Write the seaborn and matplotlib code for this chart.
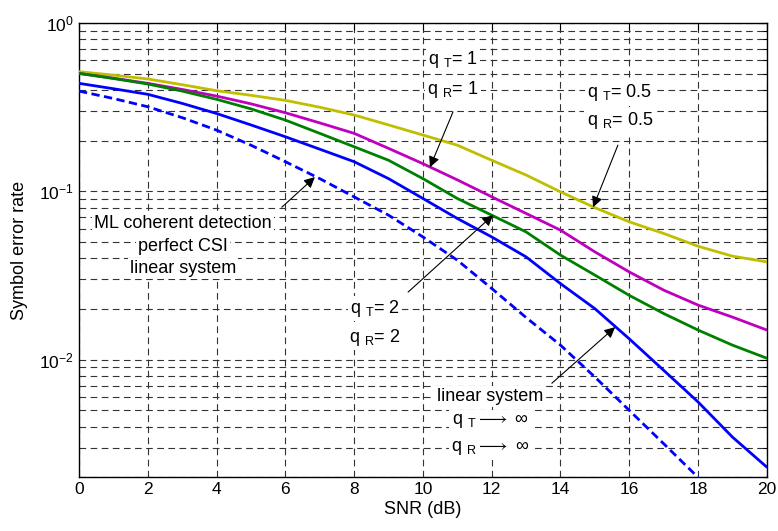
import numpy as np
import pandas as pd
import matplotlib
matplotlib.use("Agg")
import matplotlib.pyplot as plt
import seaborn as sns
from matplotlib.ticker import LogLocator, FixedLocator, NullFormatter

# ---------------- data ----------------
snr = list(range(0, 21))
snr_ml = list(range(0, 19))

ser_q05 = [0.514, 0.490, 0.465, 0.430, 0.396, 0.372, 0.347, 0.316, 0.284, 0.248, 0.216,
           0.188, 0.153, 0.125, 0.0993, 0.080, 0.0659, 0.0562, 0.0472, 0.0412, 0.0381]
ser_q1 = [0.502, 0.470, 0.438, 0.403, 0.368, 0.331, 0.293, 0.255, 0.221, 0.180, 0.146,
          0.117, 0.0928, 0.0739, 0.0588, 0.0437, 0.0332, 0.0259, 0.0211, 0.0179, 0.0150]
ser_q2 = [0.502, 0.468, 0.434, 0.394, 0.352, 0.309, 0.265, 0.221, 0.184, 0.153, 0.119,
          0.0907, 0.0722, 0.0574, 0.0418, 0.0318, 0.0241, 0.0188, 0.0150, 0.0122, 0.0102]
ser_lin = [0.438, 0.407, 0.377, 0.333, 0.290, 0.248, 0.211, 0.178, 0.150, 0.119, 0.0907,
           0.069, 0.0536, 0.0408, 0.0283, 0.0201, 0.0133, 0.00865, 0.00561, 0.00347, 0.0023]
ser_ml = [0.394, 0.356, 0.318, 0.274, 0.231, 0.188, 0.150, 0.119, 0.0927, 0.0722, 0.0536,
          0.039, 0.0265, 0.0178, 0.0122, 0.00789, 0.0050, 0.00317, 0.0020]

x_ticks = [0, 2, 4, 6, 8, 10, 12, 14, 16, 18, 20]

# ---------------- style ----------------
sns.set_style("white")
plt.rcParams["font.family"] = ["Liberation Sans", "DejaVu Sans"]
plt.rcParams["mathtext.fontset"] = "custom"
plt.rcParams["mathtext.rm"] = "Liberation Sans"
plt.rcParams["mathtext.it"] = "Liberation Sans:italic"
plt.rcParams["mathtext.bf"] = "Liberation Sans:bold"
plt.rcParams["mathtext.sf"] = "Liberation Sans"
plt.rcParams["mathtext.fallback"] = "stixsans"
plt.rcParams["axes.unicode_minus"] = False
plt.rcParams["text.color"] = "black"
plt.rcParams["axes.labelcolor"] = "black"
plt.rcParams["xtick.color"] = "black"
plt.rcParams["ytick.color"] = "black"

fig = plt.figure(figsize=(7.78, 5.31), dpi=100)
ax = fig.add_axes([0.1015, 0.1011, 0.8841, 0.8556])

fs = 13
lw = 2.0

sns.lineplot(x=snr, y=ser_q05, color="#bfbf00", lw=lw, ax=ax, zorder=3)
sns.lineplot(x=snr, y=ser_q1, color="#bf00bf", lw=lw, ax=ax, zorder=3)
sns.lineplot(x=snr, y=ser_q2, color="#008000", lw=lw, ax=ax, zorder=3)
sns.lineplot(x=snr, y=ser_lin, color="#0000ff", lw=lw, ax=ax, zorder=3)
sns.lineplot(x=snr_ml, y=ser_ml, color="#0000ff", lw=lw, ax=ax, zorder=3,
             linestyle=(0, (3.0, 1.6)))

ax.set_yscale("log")
ax.set_xlim(0, 20)
ax.set_ylim(2e-3, 1)

ax.xaxis.set_major_locator(FixedLocator(x_ticks))
ax.yaxis.set_major_locator(LogLocator(base=10, numticks=10))
ax.yaxis.set_minor_locator(LogLocator(base=10, subs=np.arange(2, 10), numticks=20))
ax.yaxis.set_minor_formatter(NullFormatter())

grid_ls = (0, (6.0, 4.0))
ax.grid(True, which="major", axis="both", color="0.2", lw=0.8, linestyle=grid_ls)
ax.grid(True, which="minor", axis="y", color="0.2", lw=0.8, linestyle=grid_ls)

ax.tick_params(axis="both", which="both", direction="in", top=True, right=True,
               labelsize=fs - 0.5, color="k", labelcolor="k")
ax.tick_params(which="major", length=5, width=0.8)
ax.tick_params(which="minor", length=3, width=0.8)
for s in ax.spines.values():
    s.set_color("k")
    s.set_linewidth(1.0)

ax.set_xlabel("SNR (dB)", fontsize=fs, labelpad=3, color="k")
ax.set_ylabel("Symbol error rate", fontsize=fs, labelpad=8, color="k")

# ---------------- annotations ----------------
arrow = dict(arrowstyle="-|>", color="k", lw=0.8, mutation_scale=16,
             shrinkA=0, shrinkB=0)
box = dict(boxstyle="square,pad=0.12", fc="white", ec="none")
tkw = dict(ha="center", va="center", fontsize=fs, zorder=5, bbox=box, color="k")

# q = 1
ax.text(10.875, 0.603, r"q $_{\mathrm{T}}$= 1", **tkw)
ax.text(10.875, 0.405, r"q $_{\mathrm{R}}$= 1", **tkw)
ax.annotate("", xy=(10.206, 0.139), xytext=(10.875, 0.296), arrowprops=arrow)

# q = 0.5
ax.text(15.73, 0.384, r"q $_{\mathrm{T}}$= 0.5", **tkw)
ax.text(15.73, 0.265, r"q $_{\mathrm{R}}$= 0.5", **tkw)
ax.annotate("", xy=(14.95, 0.0805), xytext=(15.67, 0.188), arrowprops=arrow)

# ML coherent detection
ax.text(3.02, 0.0647, "ML coherent detection", **tkw)
ax.text(3.02, 0.0472, "perfect CSI", **tkw)
ax.text(3.02, 0.0349, "linear system", **tkw)
ax.annotate("", xy=(6.86, 0.1215), xytext=(5.90, 0.0805), arrowprops=arrow)

# q = 2
ax.text(8.61, 0.0202, r"q $_{\mathrm{T}}$= 2", **tkw)
ax.text(8.61, 0.0136, r"q $_{\mathrm{R}}$= 2", **tkw)
ax.annotate("", xy=(12.04, 0.0722), xytext=(9.57, 0.0252), arrowprops=arrow)

# linear system q -> inf
ax.text(11.95, 0.00606, "linear system", **tkw)
ax.text(11.95, 0.0043, r"q $_{\mathrm{T}}\longrightarrow$ $\infty$", **tkw)
ax.text(11.95, 0.00297, r"q $_{\mathrm{R}}\longrightarrow$ $\infty$", **tkw)
ax.annotate("", xy=(15.59, 0.0156), xytext=(13.75, 0.00724), arrowprops=arrow)

fig.savefig("out.png", dpi=100)
